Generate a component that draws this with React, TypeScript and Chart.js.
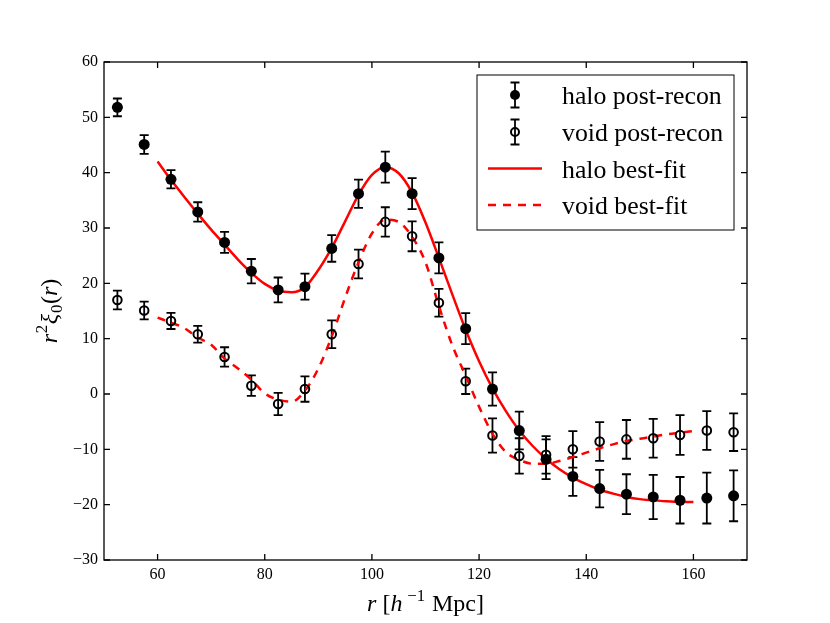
import React, { useEffect, useRef } from 'react';
import { Chart, registerables } from 'chart.js';

Chart.register(...registerables);

// measured bins, r in h^-1 Mpc
const radii = [52.5, 57.5, 62.5, 67.5, 72.5, 77.5, 82.5, 87.5, 92.5, 97.5, 102.5, 107.5,
  112.5, 117.5, 122.5, 127.5, 132.5, 137.5, 142.5, 147.5, 152.5, 157.5, 162.5, 167.5];
const haloValues = [51.8, 45.1, 38.8, 32.9, 27.4, 22.2, 18.8, 19.4, 26.3, 36.2, 41.0, 36.2,
  24.6, 11.8, 0.9, -6.6, -11.8, -14.9, -17.1, -18.1, -18.6, -19.2, -18.8, -18.4];
const haloErrors = [1.6, 1.7, 1.65, 1.75, 1.9, 2.2, 2.25, 2.35, 2.4, 2.55, 2.8, 2.8,
  2.8, 2.8, 3.0, 3.4, 3.6, 3.5, 3.4, 3.6, 4.0, 4.2, 4.6, 4.6];
const voidValues = [17.0, 15.1, 13.2, 10.8, 6.7, 1.5, -1.8, 0.9, 10.8, 23.5, 31.1, 28.5,
  16.5, 2.3, -7.5, -11.2, -11.0, -10.0, -8.6, -8.2, -8.0, -7.4, -6.6, -6.9];
const voidErrors = [1.7, 1.6, 1.45, 1.5, 1.75, 1.85, 2.0, 2.3, 2.5, 2.6, 2.65, 2.7,
  2.5, 2.3, 3.1, 3.2, 3.4, 3.3, 3.5, 3.5, 3.5, 3.6, 3.5, 3.4];

// best-fit curves, sampled every 2.5
const fitRadii = [60, 62.5, 65, 67.5, 70, 72.5, 75, 77.5, 80, 82.5, 85, 87.5, 90, 92.5, 95,
  97.5, 100, 102.5, 105, 107.5, 110, 112.5, 115, 117.5, 120, 122.5, 125, 127.5, 130, 132.5,
  135, 137.5, 140, 142.5, 145, 147.5, 150, 152.5, 155, 157.5, 160];
const haloFit = [42.0, 38.7, 35.6, 32.6, 29.7, 27.0, 24.3, 21.9, 19.9, 18.7, 18.4, 19.3, 22.4,
  26.4, 31.2, 36.0, 39.6, 41.0, 39.9, 36.4, 31.0, 24.6, 18.0, 11.6, 5.9, 1.0, -3.1, -6.6,
  -9.4, -11.7, -13.6, -15.1, -16.3, -17.3, -18.0, -18.6, -19.0, -19.2, -19.4, -19.5, -19.5];
const voidFit = [13.8, 12.9, 11.9, 10.2, 8.9, 6.4, 4.6, 2.6, 0.1, -1.0, -1.4, 0.6, 4.6, 10.4,
  17.4, 23.8, 29.0, 31.5, 31.1, 28.4, 23.8, 15.9, 8.8, 3.3, -2.3, -7.2, -10.5, -11.9, -12.6,
  -12.6, -12.1, -11.4, -10.6, -9.8, -9.1, -8.5, -8.1, -7.7, -7.3, -7.0, -6.7];

const xTicks = [60, 80, 100, 120, 140, 160];
const yTicks = [-30, -20, -10, 0, 10, 20, 30, 40, 50, 60];
const legendLabels = ['halo post-recon', 'void post-recon', 'halo best-fit', 'void best-fit'];

const serif = "'Liberation Serif', 'DejaVu Serif', serif";
const red = '#ff0000';
const dash = [8, 7];
const capHalf = 4.5;

type Piece = { t: string; it?: boolean; sup?: boolean; sub?: boolean };

// draws a run of mixed italic / super / subscript text centred on (0, 0)
const drawRich = (ctx: CanvasRenderingContext2D, pieces: Piece[], size: number) => {
  const fontOf = (p: Piece) => {
    const s = p.sup || p.sub ? size * 0.7 : size;
    return `${p.it ? 'italic ' : ''}${s}px ${serif}`;
  };
  let total = 0;
  const widths = pieces.map((p) => {
    ctx.font = fontOf(p);
    const w = ctx.measureText(p.t).width + (p.sup || p.sub ? 1.5 : 0);
    total += w;
    return w;
  });
  let cx = -total / 2;
  ctx.textBaseline = 'alphabetic';
  ctx.textAlign = 'left';
  pieces.forEach((p, i) => {
    ctx.font = fontOf(p);
    const dy = p.sup ? -size * 0.42 : p.sub ? size * 0.2 : 0;
    ctx.fillText(p.t, cx + (p.sup || p.sub ? 0.75 : 0), dy);
    cx += widths[i];
  });
};

const errorBar = (ctx: CanvasRenderingContext2D, px: number, top: number, bot: number) => {
  ctx.beginPath();
  ctx.moveTo(px, top);
  ctx.lineTo(px, bot);
  ctx.moveTo(px - capHalf, top);
  ctx.lineTo(px + capHalf, top);
  ctx.moveTo(px - capHalf, bot);
  ctx.lineTo(px + capHalf, bot);
  ctx.stroke();
};

const decorPlugin = {
  id: 'decor',
  beforeDatasetsDraw(chart: any) {
    const { ctx, scales: { x, y } } = chart;
    ctx.save();
    ctx.strokeStyle = '#000';
    ctx.lineWidth = 1.8;
    const sets: [number[], number[]][] = [[haloValues, haloErrors], [voidValues, voidErrors]];
    sets.forEach(([vals, errs]) => {
      radii.forEach((r, i) => {
        errorBar(ctx, x.getPixelForValue(r), y.getPixelForValue(vals[i] + errs[i]),
          y.getPixelForValue(vals[i] - errs[i]));
      });
    });
    ctx.restore();
  },
  afterDraw(chart: any) {
    const { ctx, chartArea: a, scales: { x, y } } = chart;
    ctx.save();
    ctx.strokeStyle = '#000';
    ctx.fillStyle = '#000';
    ctx.lineWidth = 1.3;
    ctx.strokeRect(a.left, a.top, a.right - a.left, a.bottom - a.top);

    // inward ticks on all four sides
    ctx.beginPath();
    xTicks.forEach((v) => {
      const px = x.getPixelForValue(v);
      ctx.moveTo(px, a.bottom);
      ctx.lineTo(px, a.bottom - 6);
      ctx.moveTo(px, a.top);
      ctx.lineTo(px, a.top + 6);
    });
    yTicks.forEach((v) => {
      const py = y.getPixelForValue(v);
      ctx.moveTo(a.left, py);
      ctx.lineTo(a.left + 6, py);
      ctx.moveTo(a.right, py);
      ctx.lineTo(a.right - 6, py);
    });
    ctx.stroke();

    // legend
    const lx = 477, ly = 75, lw = 257, lh = 155;
    ctx.lineWidth = 1;
    ctx.fillStyle = '#fff';
    ctx.fillRect(lx, ly, lw, lh);
    ctx.strokeRect(lx, ly, lw, lh);
    const rows = [95, 132, 168.5, 205];
    const mx = 515;
    ctx.lineWidth = 1.8;
    ctx.strokeStyle = '#000';
    errorBar(ctx, mx, rows[0] - 12.5, rows[0] + 12.5);
    errorBar(ctx, mx, rows[1] - 12.5, rows[1] + 12.5);
    ctx.fillStyle = '#000';
    ctx.beginPath();
    ctx.arc(mx, rows[0], 5, 0, Math.PI * 2);
    ctx.fill();
    ctx.lineWidth = 2;
    ctx.beginPath();
    ctx.arc(mx, rows[1], 4, 0, Math.PI * 2);
    ctx.stroke();
    ctx.strokeStyle = red;
    ctx.lineWidth = 2.5;
    ctx.beginPath();
    ctx.moveTo(488, rows[2]);
    ctx.lineTo(542, rows[2]);
    ctx.stroke();
    ctx.setLineDash(dash);
    ctx.beginPath();
    ctx.moveTo(488, rows[3]);
    ctx.lineTo(542, rows[3]);
    ctx.stroke();
    ctx.setLineDash([]);
    ctx.fillStyle = '#000';
    ctx.font = `25.8px ${serif}`;
    ctx.textAlign = 'left';
    ctx.textBaseline = 'alphabetic';
    legendLabels.forEach((label, i) => ctx.fillText(label, 562, rows[i] + 9));

    // axis titles
    ctx.save();
    ctx.translate((a.left + a.right) / 2, 611);
    drawRich(ctx, [{ t: 'r', it: true }, { t: ' [' }, { t: 'h', it: true }, { t: ' \u22121', sup: true },
      { t: ' Mpc]' }], 24);
    ctx.restore();
    ctx.save();
    ctx.translate(57, (a.top + a.bottom) / 2);
    ctx.rotate(-Math.PI / 2);
    drawRich(ctx, [{ t: 'r', it: true }, { t: '2', sup: true }, { t: '\u03be', it: true },
      { t: '0', sub: true }, { t: '(' }, { t: 'r', it: true }, { t: ')' }], 24);
    ctx.restore();
    ctx.restore();
  },
};

const minusLabel = (v: number | string) => String(v).replace('-', '\u2212');

const App: React.FC = () => {
  const canvasRef = useRef<HTMLCanvasElement>(null);

  useEffect(() => {
    document.body.style.margin = '0';
    const tickFont = { family: serif, size: 16 };
    const chart = new Chart(canvasRef.current as HTMLCanvasElement, {
      type: 'scatter',
      data: {
        datasets: [
          {
            label: 'halo post-recon',
            data: radii.map((r, i) => ({ x: r, y: haloValues[i] })),
            pointRadius: 5.5,
            pointBackgroundColor: '#000',
            pointBorderColor: '#000',
            pointBorderWidth: 0,
            showLine: false,
          },
          {
            label: 'void post-recon',
            data: radii.map((r, i) => ({ x: r, y: voidValues[i] })),
            pointRadius: 4.3,
            pointBackgroundColor: 'rgba(0,0,0,0)',
            pointBorderColor: '#000',
            pointBorderWidth: 2,
            showLine: false,
          },
          {
            label: 'halo best-fit',
            data: fitRadii.map((r, i) => ({ x: r, y: haloFit[i] })),
            showLine: true,
            borderColor: red,
            borderWidth: 2.5,
            pointRadius: 0,
            cubicInterpolationMode: 'monotone',
          },
          {
            label: 'void best-fit',
            data: fitRadii.map((r, i) => ({ x: r, y: voidFit[i] })),
            showLine: true,
            borderColor: red,
            borderWidth: 2.5,
            borderDash: dash,
            pointRadius: 0,
            cubicInterpolationMode: 'monotone',
          },
        ],
      },
      options: {
        animation: false,
        responsive: true,
        maintainAspectRatio: false,
        events: [],
        layout: { padding: { top: 62, right: 83, left: 0, bottom: 0 } },
        plugins: { legend: { display: false }, tooltip: { enabled: false } },
        scales: {
          x: {
            type: 'linear',
            min: 50,
            max: 170,
            grid: { display: false, drawTicks: false },
            border: { display: false },
            ticks: { color: '#000', font: tickFont, padding: 5, maxRotation: 0, callback: minusLabel },
            afterBuildTicks: (s: any) => { s.ticks = xTicks.map((v) => ({ value: v })); },
            afterFit: (s: any) => { s.height = 63; },
          },
          y: {
            type: 'linear',
            min: -30,
            max: 60,
            grid: { display: false, drawTicks: false },
            border: { display: false },
            ticks: { color: '#000', font: tickFont, padding: 6, callback: minusLabel },
            afterBuildTicks: (s: any) => { s.ticks = yTicks.map((v) => ({ value: v })); },
            afterFit: (s: any) => { s.width = 104; },
          },
        },
      },
      plugins: [decorPlugin],
    } as any);

    return () => {
      chart.destroy();
    };
  }, []);

  return (
    <div style={{ position: 'absolute', left: 0, top: 0, width: 830, height: 623 }}>
      <canvas ref={canvasRef}></canvas>
    </div>
  );
};

export default App;
